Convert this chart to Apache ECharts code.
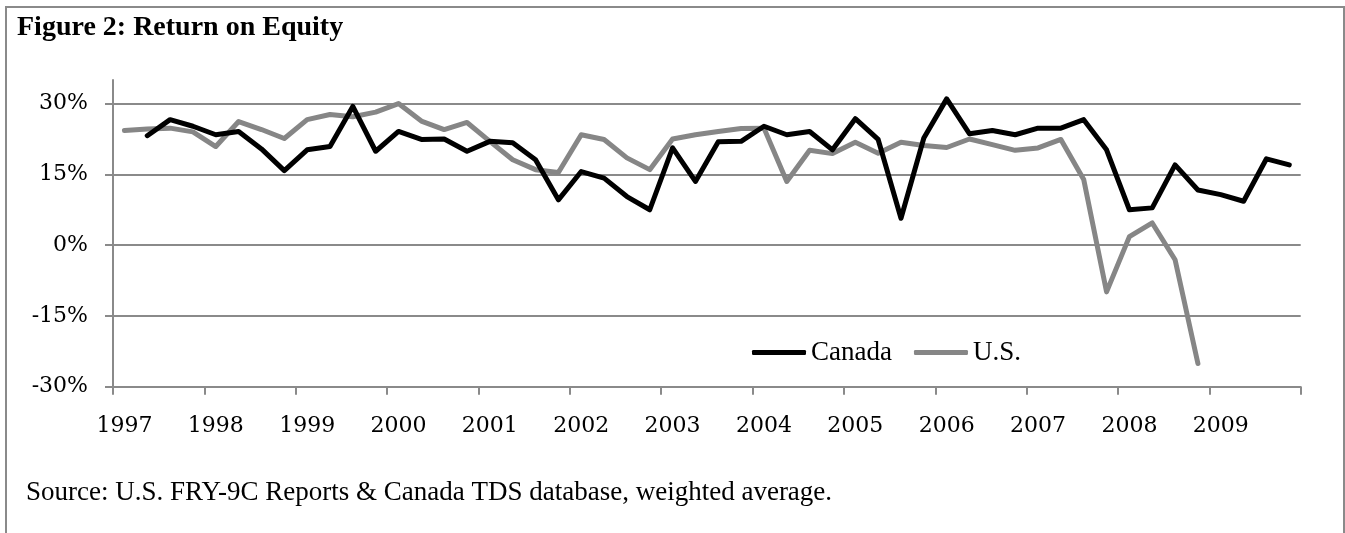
<!DOCTYPE html>
<html>
<head>
<meta charset="utf-8">
<script src="https://cdn.jsdelivr.net/npm/echarts@6/dist/echarts.min.js"></script>
<style>
  html, body { margin: 0; padding: 0; background: #fff; }
  #frame { position: absolute; left: 5px; top: 6px; width: 1340px; height: 560px; box-sizing: border-box; border: 2px solid #8a8a8a; }
  #chart { position: absolute; left: 0; top: 0; width: 1345px; height: 533px; }
</style>
</head>
<body>
<div id="frame"></div>
<div id="chart"></div>
<script>
// ---- Data (quarterly, 1997 Q1 .. 2009 Q4) ----
const years = ['1997','1998','1999','2000','2001','2002','2003','2004','2005','2006','2007','2008','2009'];
const quarterNames = ['Q1','Q2','Q3','Q4'];
const yTicks = [-30, -15, 0, 15, 30];

// Return on equity, %
const canada = [
  null, 23.2, 26.6, 25.2,   // 1997
  23.4, 24.1, 20.4, 15.8,   // 1998
  20.2, 20.9, 29.4, 19.9,   // 1999
  24.1, 22.4, 22.5, 19.9,   // 2000
  22.0, 21.7, 18.1, 9.6,    // 2001
  15.6, 14.2, 10.3, 7.5,    // 2002
  20.6, 13.5, 21.9, 22.0,   // 2003
  25.2, 23.4, 24.1, 20.2,   // 2004
  26.8, 22.4, 5.7, 22.7,    // 2005
  31.0, 23.6, 24.3, 23.4,   // 2006
  24.8, 24.8, 26.6, 20.2,   // 2007
  7.5, 7.9, 17.0, 11.7,     // 2008
  10.7, 9.3, 18.3, 17.0     // 2009
];
const us = [
  24.3, 24.6, 24.8, 24.0,   // 1997
  20.9, 26.2, 24.5, 22.6,   // 1998
  26.6, 27.7, 27.2, 28.2,   // 1999
  30.0, 26.3, 24.5, 26.0,   // 2000
  22.0, 18.1, 16.0, 15.4,   // 2001
  23.4, 22.4, 18.5, 16.0,   // 2002
  22.5, 23.4, 24.1, 24.7,   // 2003
  24.8, 13.5, 20.1, 19.4,   // 2004
  21.8, 19.5, 21.8, 21.1,   // 2005
  20.7, 22.5, 21.3, 20.1,   // 2006
  20.6, 22.4, 13.9, -9.9,   // 2007
  1.8, 4.7, -3.1, -25.1,    // 2008
  null, null, null, null    // 2009
];

const categories = [];
years.forEach(y => quarterNames.forEach(q => categories.push(y + ' ' + q)));

const GRID_GRAY = '#8a8a8a';
const chart = echarts.init(document.getElementById('chart'), null, { renderer: 'canvas' });
chart.setOption({
  animation: false,
  backgroundColor: 'transparent',
  title: [
    {
      text: 'Figure 2: Return on Equity',
      left: 17, top: 14, padding: 0,
      textStyle: { fontFamily: 'Liberation Serif', fontWeight: 'bold', fontSize: 28, color: '#000' }
    },
    {
      text: 'Source: U.S. FRY-9C Reports & Canada TDS database, weighted average.',
      left: 26, top: 479, padding: 0,
      textStyle: { fontFamily: 'Liberation Serif', fontWeight: 'normal', fontSize: 27, color: '#000' }
    }
  ],
  legend: {
    left: 752, top: 339, padding: 0,
    itemWidth: 54, itemHeight: 5, itemGap: 22,
    textStyle: { fontFamily: 'Liberation Serif', fontSize: 27, color: '#000' },
    data: [
      { name: 'Canada', icon: 'roundRect' },
      { name: 'U.S.', icon: 'roundRect' }
    ]
  },
  grid: {
    left: 113, right: 44.3, top: 80, bottom: 146.3,
    containLabel: false, outerBoundsMode: 'none'
  },
  xAxis: {
    type: 'category',
    data: categories,
    boundaryGap: true,
    axisLine: { onZero: false, lineStyle: { color: GRID_GRAY, width: 2 } },
    axisTick: { show: true, interval: 3, length: 8, lineStyle: { color: GRID_GRAY, width: 2 } },
    axisLabel: {
      interval: 3, margin: 29,
      fontFamily: 'DejaVu Serif', fontSize: 22, color: '#000',
      formatter: v => v.slice(0, 4)
    },
    splitLine: { show: false }
  },
  yAxis: {
    type: 'value',
    min: -30, max: 35, interval: 15,
    axisLine: { show: true, lineStyle: { color: GRID_GRAY, width: 2 } },
    axisTick: { show: true, length: 8, customValues: yTicks, lineStyle: { color: GRID_GRAY, width: 2 } },
    axisLabel: {
      margin: 25, customValues: yTicks,
      fontFamily: 'DejaVu Serif', fontSize: 22, color: '#000',
      formatter: v => v + '%'
    },
    splitLine: {
      show: true,
      lineStyle: { color: [GRID_GRAY, GRID_GRAY, GRID_GRAY, GRID_GRAY, GRID_GRAY, 'rgba(0,0,0,0)'], width: 2 }
    }
  },
  series: [
    {
      name: 'Canada', type: 'line', data: canada,
      symbol: 'none', showSymbol: false, connectNulls: false,
      itemStyle: { color: '#000000' },
      lineStyle: { color: '#000000', width: 5, cap: 'round', join: 'round' },
      z: 3
    },
    {
      name: 'U.S.', type: 'line', data: us,
      symbol: 'none', showSymbol: false, connectNulls: false,
      itemStyle: { color: '#868686' },
      lineStyle: { color: '#868686', width: 5, cap: 'round', join: 'round' },
      z: 2
    }
  ]
});
</script>
</body>
</html>
